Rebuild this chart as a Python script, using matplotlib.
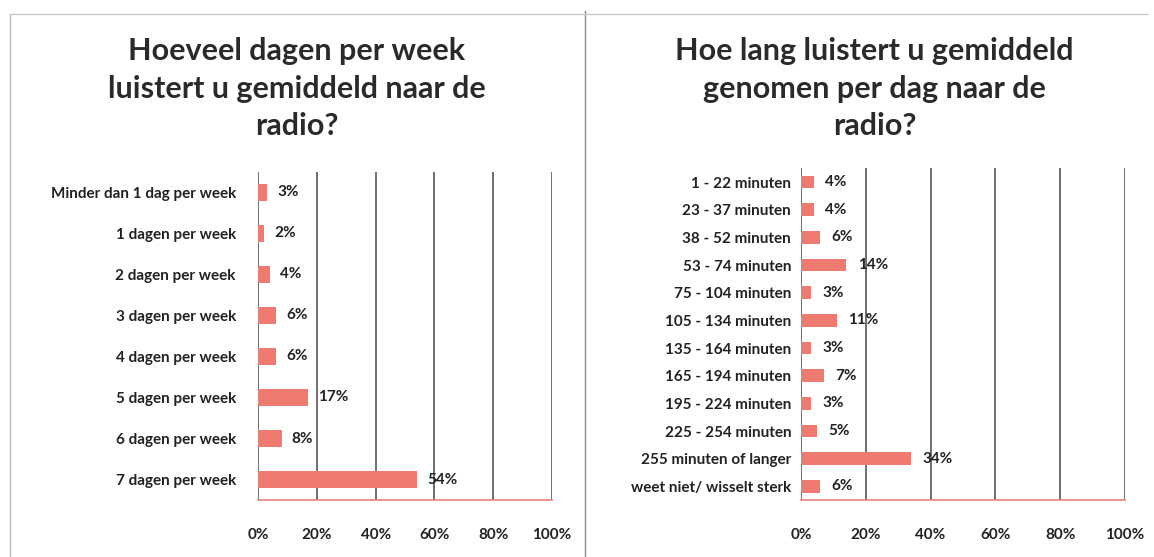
import numpy as np
import matplotlib.pyplot as plt

# data
days_labels = ['Minder dan 1 dag per week', '1 dagen per week', '2 dagen per week',
               '3 dagen per week', '4 dagen per week', '5 dagen per week',
               '6 dagen per week', '7 dagen per week']
days_pct = [3, 2, 4, 6, 6, 17, 8, 54]

minutes_labels = ['1 - 22 minuten', '23 - 37 minuten', '38 - 52 minuten', '53 - 74 minuten',
                  '75 - 104 minuten', '105 - 134 minuten', '135 - 164 minuten',
                  '165 - 194 minuten', '195 - 224 minuten', '225 - 254 minuten',
                  '255 minuten of langer', 'weet niet/ wisselt sterk']
minutes_pct = [4, 4, 6, 14, 3, 11, 3, 7, 3, 5, 34, 6]

title_left = 'Hoeveel dagen per week\nluistert u gemiddeld naar de\nradio?'
title_right = 'Hoe lang luistert u gemiddeld\ngenomen per dag naar de\nradio?'

plt.rcParams['font.family'] = ['Lato', 'DejaVu Sans']
bar_color = '#EF7A70'
grid_color = '#555555'

fig = plt.figure(figsize=(11.54, 5.57), dpi=100)


def draw(ax, labels, values, bar_h, label_size, ypad):
    y = np.arange(len(labels))
    ax.barh(y, values, height=bar_h, color=bar_color, zorder=3)
    ax.set_xlim(0, 100)
    ax.set_ylim(len(labels) - 0.5, -0.5)
    ax.set_yticks(y)
    ax.set_yticklabels(labels, fontsize=label_size, fontweight='bold', color='#222222')
    ax.set_xticks([0, 20, 40, 60, 80, 100])
    ax.set_xticklabels(['0%', '20%', '40%', '60%', '80%', '100%'],
                       fontsize=11, fontweight='bold', color='#222222')
    ax.tick_params(axis='both', length=0)
    ax.tick_params(axis='x', pad=20)
    ax.tick_params(axis='y', pad=ypad)
    ax.grid(axis='x', color=grid_color, linewidth=1.2, zorder=0)
    for s in ['top', 'right', 'left']:
        ax.spines[s].set_visible(False)
    ax.spines['bottom'].set_color('#E88080')
    ax.spines['bottom'].set_linewidth(1.2)
    for yi, v in zip(y, values):
        ax.text(v + 3.5, yi, f'{v}%', va='center', ha='left',
                fontsize=11, fontweight='bold', color='#222222', zorder=4)


ax1 = fig.add_axes([0.2236, 0.1023, 0.2548, 0.589])
draw(ax1, days_labels, days_pct, 0.42, 11, 16)
ax2 = fig.add_axes([0.694, 0.102, 0.281, 0.596])
draw(ax2, minutes_labels, minutes_pct, 0.45, 11, 7)

fig.text(0.257, 0.841, title_left, ha='center', va='center', fontsize=22,
         fontweight='bold', color='#2a2a2a', linespacing=1.42)
fig.text(0.758, 0.841, title_right, ha='center', va='center', fontsize=22,
         fontweight='bold', color='#2a2a2a', linespacing=1.42)

# panel frame lines of the scanned sheet
fig.add_artist(plt.Line2D([0.009, 0.009], [0.0, 0.975], color='#bbbbbb', lw=1))
fig.add_artist(plt.Line2D([0.507, 0.507], [0.0, 0.98], color='#888888', lw=1))
fig.add_artist(plt.Line2D([0.009, 0.995], [0.975, 0.975], color='#cccccc', lw=1))

fig.savefig('out.png', dpi=100, facecolor='white')
